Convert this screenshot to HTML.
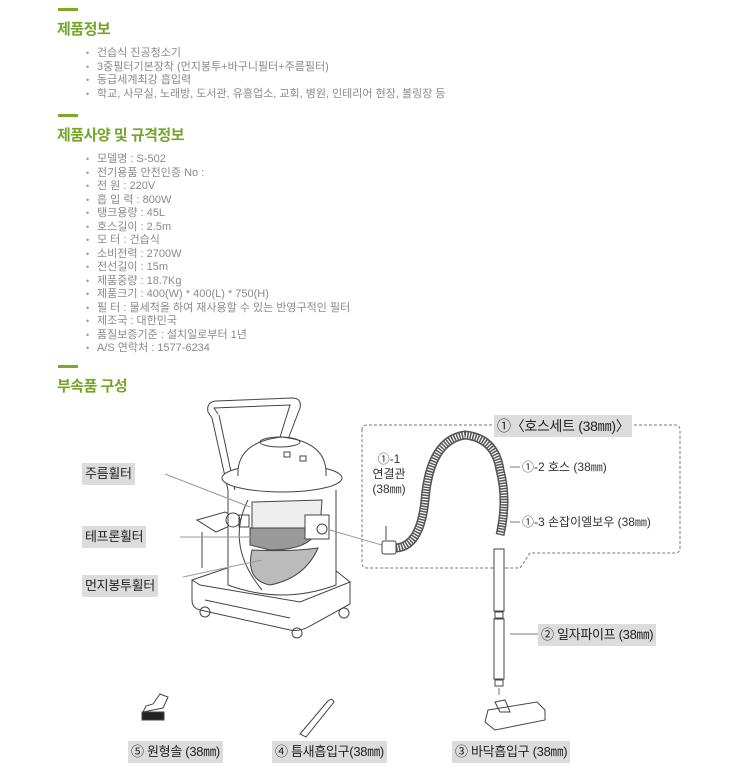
<!DOCTYPE html>
<html><head><meta charset="utf-8"><style>
html,body{margin:0;padding:0;background:#fff;width:730px;height:777px;overflow:hidden}
body{position:relative;font-family:"Liberation Sans","Noto Sans CJK KR",sans-serif}
.bar{position:absolute;left:58px;width:20px;height:3px;background:#7aaa28}
.h{position:absolute;left:57px;font-size:15px;font-weight:bold;color:#76a52a;letter-spacing:-0.5px}
ul{position:absolute;left:86px;margin:0;padding:0;list-style:none;font-size:11px;color:#8a8a8a}
li{height:13.5px;line-height:13.5px;white-space:nowrap}
li:before{content:"•";display:inline-block;width:11px;font-size:9px;color:#999}
.lb{position:absolute;background:#dcdcdc;color:#222;font-size:13px;line-height:22px;height:22px;padding:0 3px;white-space:nowrap;letter-spacing:-0.3px}
.t{position:absolute;font-size:12px;color:#333;white-space:nowrap;line-height:15px}
</style></head><body>
<div class="bar" style="top:8px"></div>
<div class="h" style="top:18px">제품정보</div>
<ul style="top:47px"><li>건습식 진공청소기</li><li>3중필터기본장착 (먼지봉투+바구니필터+주름필터)</li><li>동급세계최강 흡입력</li><li>학교, 사무실, 노래방, 도서관, 유흥업소, 교회, 병원, 인테리어 현장, 볼링장 등</li></ul>
<div class="bar" style="top:114px"></div>
<div class="h" style="top:124px">제품사양 및 규격정보</div>
<ul style="top:153px"><li>모델명 : S-502</li><li>전기용품 안전인증 No :</li><li>전 원 : 220V</li><li>흡 입 력 : 800W</li><li>탱크용량 : 45L</li><li>호스길이 : 2.5m</li><li>모 터 : 건습식</li><li>소비전력 : 2700W</li><li>전선길이 : 15m</li><li>제품중량 : 18.7Kg</li><li>제품크기 : 400(W) * 400(L) * 750(H)</li><li>필 터 : 물세척을 하여 재사용할 수 있는 반영구적인 필터</li><li>제조국 : 대한민국</li><li>품질보증기준 : 설치일로부터 1년</li><li>A/S 연락처 : 1577-6234</li></ul>
<div class="bar" style="top:365px"></div>
<div class="h" style="top:375px">부속품 구성</div>

<svg style="position:absolute;left:0;top:0" width="730" height="777" fill="none" stroke="#444" stroke-width="1">
<path d="M362,430 Q362,425 367,425 L675,425 Q680,425 680,430 L680,548 Q680,553 675,553 L530,553 L520,568 L367,568 Q362,568 362,563 Z" stroke="#777" stroke-dasharray="3,2"/>
<!-- handle -->
<path d="M212,418 L208,412 Q206,402 216,401 L292,398 Q302,398 300,408 L282,455 M218,414 L214,408 L290,405 L276,450 M212,418 L232,508 M219,415 L238,505"/>
<!-- base -->
<path d="M192,580 L192,600 Q192,608 200,610 L290,630 Q300,632 310,626 L350,604 L350,582 L300,602 L200,585 Z"/>
<path d="M192,580 L236,565 M350,582 L330,566 M205,600 L290,618"/>
<circle cx="205" cy="612" r="5"/><circle cx="297" cy="633" r="5"/><circle cx="344" cy="613" r="5"/>
<!-- tray -->
<path d="M197,520 L225,512 L243,520 L216,532 Z M202,532 L202,568"/>
<!-- body cylinder -->
<path d="M228,490 L228,585 Q282,605 336,585 L336,490" fill="#fff"/>
<ellipse cx="282" cy="478" rx="60" ry="14" fill="#fff"/>
<path d="M238,476 Q236,442 282,437 Q328,442 326,476" fill="#fff"/>
<ellipse cx="280" cy="442" rx="20" ry="5"/>
<rect x="284" y="452" width="6" height="5"/><rect x="300" y="456" width="6" height="5"/>
<!-- filters -->
<path d="M252,502 L322,500 L320,528 L252,528 Z" fill="#eee"/>
<path d="M250,528 L318,528 Q312,550 270,550 L250,545 Z" fill="#999"/>
<path d="M252,550 Q290,552 318,548 Q305,578 270,585 Q245,580 252,550 Z" fill="#bbb"/>
<path d="M248,500 Q225,545 262,590"/>
<circle cx="233" cy="520" r="7"/><rect x="239" y="515" width="10" height="12"/>
<rect x="305" y="515" width="24" height="24" fill="#fff"/><circle cx="322" cy="529" r="5"/>
<path d="M165,474 L250,507 M180,537 L264,537 M183,577 L262,560 M330,530 L385,546" stroke="#999"/>
<!-- hose -->
<path d="M392,548 Q420,550 425,500 Q430,440 465,435 Q495,438 500,470 Q508,500 500,535" stroke="#555" stroke-width="9"/>
<path d="M392,548 Q420,550 425,500 Q430,440 465,435 Q495,438 500,470 Q508,500 500,535" stroke="#fff" stroke-width="6" stroke-dasharray="1.2,1.5"/>
<rect x="382" y="541" width="14" height="13" fill="#fff" rx="2"/>
<path d="M386,526 L386,540"/>
<rect x="494" y="549" width="10" height="62" fill="#fff"/><rect x="495" y="612" width="8" height="6"/>
<rect x="494" y="619" width="10" height="60" fill="#fff"/><rect x="495" y="680" width="8" height="6"/>
<path d="M499,688 L499,695 M510,467 L520,467 M510,522 L520,522 M510,634 L538,634" stroke="#777"/>
<path d="M488,710 L537,702 L545,710 L545,720 L495,730 L485,722 Z" fill="#fff"/><path d="M495,702 L500,712 L510,712 L505,700 Z"/>
<path d="M300,734 L327,702 Q332,697 334,702 L306,737 Z"/>
<path d="M143,712 L163,708 L168,697 L160,694 L153,704 L146,706 Z" fill="#fff"/>
<rect x="142" y="712" width="22" height="8" fill="#222"/>
</svg>
<div class="lb" style="left:82px;top:463px">주름휠터</div>
<div class="lb" style="left:82px;top:526px">테프론휠터</div>
<div class="lb" style="left:82px;top:575px">먼지봉투휠터</div>
<div class="lb" style="left:494px;top:415px;font-size:14px">①〈호스세트 (38㎜)〉</div>
<div class="t" style="left:369px;top:452px;text-align:center;width:40px">①-1<br>연결관<br>(38㎜)</div>
<div class="t" style="left:522px;top:460px">①-2 호스 (38㎜)</div>
<div class="t" style="left:522px;top:515px">①-3 손잡이엘보우 (38㎜)</div>
<div class="lb" style="left:538px;top:624px">② 일자파이프 (38㎜)</div>
<div class="lb" style="left:128px;top:741px">⑤ 원형솔 (38㎜)</div>
<div class="lb" style="left:272px;top:741px">④ 틈새흡입구(38㎜)</div>
<div class="lb" style="left:452px;top:741px">③ 바닥흡입구 (38㎜)</div>
</body></html>
